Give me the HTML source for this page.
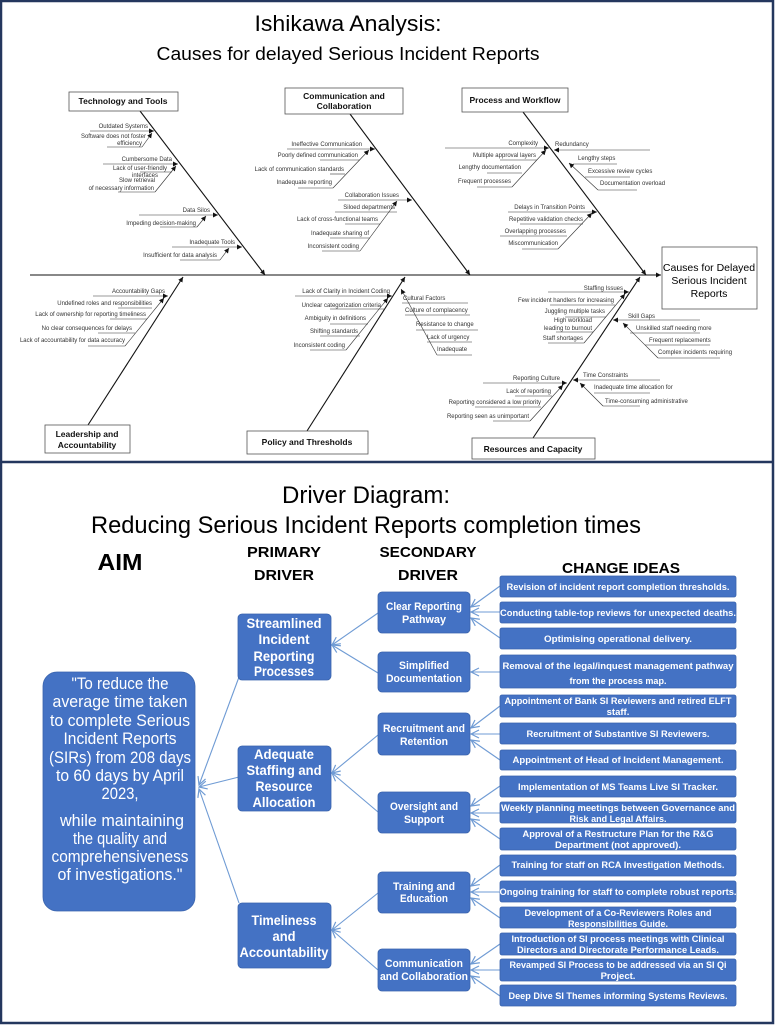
<!DOCTYPE html>
<html><head><meta charset="utf-8"><style>
html,body{margin:0;padding:0;background:#fff}
svg{display:block}
.t{font-family:"Liberation Sans",Arial,sans-serif;font-size:6px;fill:#333}
.bt{font-family:"Liberation Sans",Arial,sans-serif;font-size:8.5px;font-weight:bold;fill:#111;text-anchor:middle}
.c{font-family:"Liberation Sans",Arial,sans-serif;fill:#000;text-anchor:middle}
.w{font-family:"Liberation Sans",Arial,sans-serif;fill:#fff;text-anchor:middle;font-weight:bold}
.n{font-family:"Liberation Sans",Arial,sans-serif;fill:#fff;text-anchor:middle;font-weight:normal;font-size:17px}
.e{text-anchor:end}
</style></head><body>
<svg width="778" height="1026" viewBox="0 0 778 1026" xmlns="http://www.w3.org/2000/svg">
<defs>
<marker id="a" markerWidth="6" markerHeight="6" refX="5" refY="3" orient="auto" markerUnits="userSpaceOnUse"><path d="M0,0.5 L5,3 L0,5.5z" fill="#111"/></marker>
<marker id="o" markerWidth="10" markerHeight="10" refX="9" refY="5" orient="auto" markerUnits="userSpaceOnUse"><path d="M1,1 L9,5 L1,9" fill="none" stroke="#6f9bd4" stroke-width="1.2"/></marker>
</defs>
<rect x="1" y="1" width="772" height="1022" fill="#fff" stroke="#24375e" stroke-width="2.5"/>
<line x1="1" y1="462" x2="773" y2="462" stroke="#24375e" stroke-width="2.5"/>

<!-- ISHIKAWA -->
<text class="c" x="348" y="31" font-size="22" textLength="187" lengthAdjust="spacingAndGlyphs">Ishikawa Analysis:</text>
<text class="c" x="348" y="60" font-size="18" textLength="383" lengthAdjust="spacingAndGlyphs">Causes for delayed Serious Incident Reports</text>

<g stroke="#111" fill="none" stroke-width="1.1">
<line x1="30" y1="275" x2="661" y2="275" marker-end="url(#a)"/>
<line x1="140" y1="111" x2="265" y2="275" marker-end="url(#a)"/>
<line x1="350" y1="114" x2="470" y2="275" marker-end="url(#a)"/>
<line x1="523" y1="112" x2="646" y2="275" marker-end="url(#a)"/>
<line x1="88" y1="425" x2="183" y2="277" marker-end="url(#a)"/>
<line x1="307" y1="431" x2="405" y2="277" marker-end="url(#a)"/>
<line x1="533" y1="438" x2="640" y2="277" marker-end="url(#a)"/>
</g>
<g fill="#fff" stroke="#555" stroke-width="0.8">
<rect x="69" y="92" width="109" height="19"/>
<rect x="285" y="88" width="118" height="26"/>
<rect x="462" y="88" width="106" height="24"/>
<rect x="45" y="425" width="85" height="28"/>
<rect x="247" y="431" width="121" height="23"/>
<rect x="472" y="438" width="123" height="21"/>
<rect x="662" y="247" width="95" height="62"/>
</g>
<text class="bt" x="123" y="104">Technology and Tools</text>
<text class="bt" x="344" y="99">Communication and</text>
<text class="bt" x="344" y="109">Collaboration</text>
<text class="bt" x="515" y="103">Process and Workflow</text>
<text class="bt" x="87" y="437">Leadership and</text>
<text class="bt" x="87" y="448">Accountability</text>
<text class="bt" x="307" y="445">Policy and Thresholds</text>
<text class="bt" x="533" y="452">Resources and Capacity</text>
<text class="c" x="709" y="271" font-size="10.5" fill="#222">Causes for Delayed</text>
<text class="c" x="709" y="284" font-size="10.5" fill="#222">Serious Incident</text>
<text class="c" x="709" y="297" font-size="10.5" fill="#222">Reports</text>

<g stroke="#333" fill="none" stroke-width="0.6">
<line x1="90" y1="131" x2="154" y2="131" marker-end="url(#a)"/>
<line x1="107" y1="147" x2="142" y2="147"/><line x1="142" y1="147" x2="152" y2="133" marker-end="url(#a)"/>
<line x1="103" y1="164" x2="178" y2="164" marker-end="url(#a)"/>
<line x1="140" y1="172" x2="172" y2="172"/>
<line x1="118" y1="192" x2="155" y2="192"/><line x1="155" y1="192" x2="176" y2="166" marker-end="url(#a)"/>
<line x1="139" y1="215" x2="218" y2="215" marker-end="url(#a)"/>
<line x1="160" y1="227" x2="197" y2="227"/><line x1="197" y1="227" x2="206" y2="216" marker-end="url(#a)"/>
<line x1="172" y1="247" x2="242" y2="247" marker-end="url(#a)"/>
<line x1="180" y1="260" x2="220" y2="260"/><line x1="220" y1="260" x2="229" y2="248" marker-end="url(#a)"/>
<line x1="287" y1="149" x2="375" y2="149" marker-end="url(#a)"/>
<line x1="320" y1="160" x2="360" y2="160"/><line x1="330" y1="174" x2="345" y2="174"/>
<line x1="298" y1="188" x2="333" y2="188"/><line x1="333" y1="188" x2="369" y2="150" marker-end="url(#a)"/>
<line x1="338" y1="200" x2="412" y2="200" marker-end="url(#a)"/>
<line x1="335" y1="212" x2="397" y2="212"/><line x1="345" y1="224" x2="380" y2="224"/><line x1="330" y1="238" x2="370" y2="238"/>
<line x1="322" y1="251" x2="360" y2="251"/><line x1="360" y1="251" x2="397" y2="201" marker-end="url(#a)"/>
<line x1="445" y1="148" x2="549" y2="148" marker-end="url(#a)"/>
<line x1="500" y1="160" x2="537" y2="160"/><line x1="487" y1="173" x2="522" y2="173"/>
<line x1="477" y1="187" x2="512" y2="187"/><line x1="512" y1="187" x2="546" y2="150" marker-end="url(#a)"/>
<line x1="650" y1="150" x2="554" y2="150" marker-end="url(#a)"/>
<line x1="573" y1="164" x2="617" y2="164"/><line x1="585" y1="177" x2="630" y2="177"/><line x1="598" y1="190" x2="637" y2="190"/>
<line x1="598" y1="190" x2="569" y2="163" marker-end="url(#a)"/>
<line x1="508" y1="212" x2="597" y2="212" marker-end="url(#a)"/>
<line x1="520" y1="224" x2="583" y2="224"/><line x1="500" y1="236" x2="567" y2="236"/>
<line x1="522" y1="249" x2="558" y2="249"/><line x1="558" y1="249" x2="592" y2="213" marker-end="url(#a)"/>
<line x1="93" y1="296" x2="168" y2="296" marker-end="url(#a)"/>
<line x1="118" y1="308" x2="152" y2="308"/><line x1="110" y1="319" x2="147" y2="319"/><line x1="98" y1="333" x2="135" y2="333"/>
<line x1="88" y1="346" x2="125" y2="346"/><line x1="125" y1="346" x2="164" y2="298" marker-end="url(#a)"/>
<line x1="295" y1="296" x2="392" y2="296" marker-end="url(#a)"/>
<line x1="330" y1="309" x2="385" y2="309"/><line x1="330" y1="324" x2="368" y2="324"/><line x1="320" y1="336" x2="360" y2="336"/>
<line x1="310" y1="350" x2="346" y2="350"/><line x1="346" y1="350" x2="388" y2="298" marker-end="url(#a)"/>
<line x1="468" y1="303" x2="402" y2="303"/>
<line x1="405" y1="315" x2="470" y2="315"/><line x1="416" y1="330" x2="478" y2="330"/><line x1="427" y1="342" x2="472" y2="342"/><line x1="437" y1="355" x2="472" y2="355"/>
<line x1="437" y1="355" x2="401" y2="289" marker-end="url(#a)"/>
<line x1="548" y1="292" x2="629" y2="292" marker-end="url(#a)"/>
<line x1="550" y1="305" x2="615" y2="305"/><line x1="565" y1="317" x2="606" y2="317"/><line x1="556" y1="332" x2="593" y2="332"/>
<line x1="548" y1="343" x2="584" y2="343"/><line x1="584" y1="343" x2="625" y2="294" marker-end="url(#a)"/>
<line x1="700" y1="320" x2="613" y2="320" marker-end="url(#a)"/>
<line x1="630" y1="333" x2="700" y2="333"/><line x1="645" y1="345" x2="710" y2="345"/><line x1="658" y1="358" x2="720" y2="358"/>
<line x1="658" y1="358" x2="623" y2="323" marker-end="url(#a)"/>
<line x1="483" y1="383" x2="567" y2="383" marker-end="url(#a)"/>
<line x1="515" y1="396" x2="552" y2="396"/><line x1="475" y1="407" x2="541" y2="407"/>
<line x1="493" y1="421" x2="530" y2="421"/><line x1="530" y1="421" x2="563" y2="385" marker-end="url(#a)"/>
<line x1="660" y1="380" x2="573" y2="380" marker-end="url(#a)"/>
<line x1="594" y1="393" x2="650" y2="393"/><line x1="603" y1="406" x2="640" y2="406"/>
<line x1="603" y1="406" x2="580" y2="383" marker-end="url(#a)"/>
</g>

<g class="t">
<text class="t e" x="148" y="128">Outdated Systems</text>
<text class="t e" x="146" y="138">Software does not foster</text>
<text class="t e" x="142" y="145">efficiency</text>
<text class="t e" x="172" y="161">Cumbersome Data</text>
<text class="t e" x="167" y="170">Lack of user-friendly</text>
<text class="t e" x="158" y="177">interfaces</text>
<text class="t e" x="155" y="182">Slow retrieval</text>
<text class="t e" x="154" y="190">of necessary information</text>
<text class="t e" x="210" y="212">Data Silos</text>
<text class="t e" x="196" y="225">Impeding decision-making</text>
<text class="t e" x="235" y="244">Inadequate Tools</text>
<text class="t e" x="217" y="257">Insufficient for data analysis</text>
<text class="t e" x="362" y="146">Ineffective Communication</text>
<text class="t e" x="358" y="157">Poorly defined communication</text>
<text class="t e" x="344" y="171">Lack of communication standards</text>
<text class="t e" x="332" y="184">Inadequate reporting</text>
<text class="t e" x="399" y="197">Collaboration Issues</text>
<text class="t e" x="395" y="209">Siloed departments</text>
<text class="t e" x="378" y="221">Lack of cross-functional teams</text>
<text class="t e" x="369" y="235">Inadequate sharing of</text>
<text class="t e" x="359" y="248">Inconsistent coding</text>
<text class="t e" x="538" y="145">Complexity</text>
<text class="t e" x="536" y="157">Multiple approval layers</text>
<text class="t e" x="521" y="169">Lengthy documentation</text>
<text class="t e" x="511" y="183">Frequent processes</text>
<text class="t" x="555" y="146">Redundancy</text>
<text class="t" x="578" y="160">Lengthy steps</text>
<text class="t" x="588" y="173">Excessive review cycles</text>
<text class="t" x="600" y="185">Documentation overload</text>
<text class="t e" x="585" y="209">Delays in Transition Points</text>
<text class="t e" x="583" y="221">Repetitive validation checks</text>
<text class="t e" x="566" y="233">Overlapping processes</text>
<text class="t e" x="558" y="245">Miscommunication</text>
<text class="t e" x="165" y="293">Accountability Gaps</text>
<text class="t e" x="152" y="305">Undefined roles and responsibilities</text>
<text class="t e" x="146" y="316">Lack of ownership for reporting timeliness</text>
<text class="t e" x="132" y="330">No clear consequences for delays</text>
<text class="t e" x="125" y="342">Lack of accountability for data accuracy</text>
<text class="t e" x="390" y="293">Lack of Clarity in Incident Coding</text>
<text class="t e" x="381" y="307">Unclear categorization criteria</text>
<text class="t e" x="366" y="320">Ambiguity in definitions</text>
<text class="t e" x="358" y="333">Shifting standards</text>
<text class="t e" x="345" y="347">Inconsistent coding</text>
<text class="t" x="403" y="300">Cultural Factors</text>
<text class="t" x="405" y="312">Culture of complacency</text>
<text class="t" x="416" y="326">Resistance to change</text>
<text class="t" x="427" y="339">Lack of urgency</text>
<text class="t" x="437" y="351">Inadequate</text>
<text class="t e" x="623" y="290">Staffing Issues</text>
<text class="t e" x="614" y="302">Few incident handlers for increasing</text>
<text class="t e" x="605" y="313">Juggling multiple tasks</text>
<text class="t e" x="592" y="322">High workload</text>
<text class="t e" x="592" y="330">leading to burnout</text>
<text class="t e" x="583" y="340">Staff shortages</text>
<text class="t" x="628" y="318">Skill Gaps</text>
<text class="t" x="636" y="330">Unskilled staff needing more</text>
<text class="t" x="649" y="342">Frequent replacements</text>
<text class="t" x="658" y="354">Complex incidents requiring</text>
<text class="t e" x="560" y="380">Reporting Culture</text>
<text class="t e" x="551" y="393">Lack of reporting</text>
<text class="t e" x="541" y="404">Reporting considered a low priority</text>
<text class="t e" x="529" y="418">Reporting seen as unimportant</text>
<text class="t" x="583" y="377">Time Constraints</text>
<text class="t" x="594" y="389">Inadequate time allocation for</text>
<text class="t" x="605" y="403">Time-consuming administrative</text>
</g>

<!-- DRIVER DIAGRAM -->
<text class="c" x="366" y="503" font-size="24" textLength="168" lengthAdjust="spacingAndGlyphs">Driver Diagram:</text>
<text class="c" x="366" y="533" font-size="24" textLength="550" lengthAdjust="spacingAndGlyphs">Reducing Serious Incident Reports completion times</text>
<text class="c" x="120" y="570" font-size="23" font-weight="bold" textLength="45" lengthAdjust="spacingAndGlyphs">AIM</text>
<text class="c" x="284" y="557" font-size="15" font-weight="bold" textLength="74" lengthAdjust="spacingAndGlyphs">PRIMARY</text>
<text class="c" x="284" y="580" font-size="15" font-weight="bold" textLength="60" lengthAdjust="spacingAndGlyphs">DRIVER</text>
<text class="c" x="428" y="557" font-size="15" font-weight="bold" textLength="97" lengthAdjust="spacingAndGlyphs">SECONDARY</text>
<text class="c" x="428" y="580" font-size="15" font-weight="bold" textLength="60" lengthAdjust="spacingAndGlyphs">DRIVER</text>
<text class="c" x="621" y="573" font-size="15" font-weight="bold" textLength="118" lengthAdjust="spacingAndGlyphs">CHANGE IDEAS</text>

<g stroke="#6f9bd4" stroke-width="1.1" fill="none">
<line x1="239" y1="677" x2="199" y2="785" marker-end="url(#o)"/>
<line x1="239" y1="777" x2="199" y2="787" marker-end="url(#o)"/>
<line x1="239" y1="903" x2="199" y2="789" marker-end="url(#o)"/>
<line x1="378" y1="613" x2="332" y2="645" marker-end="url(#o)"/>
<line x1="378" y1="673" x2="332" y2="645" marker-end="url(#o)"/>
<line x1="378" y1="735" x2="332" y2="773" marker-end="url(#o)"/>
<line x1="378" y1="812" x2="332" y2="773" marker-end="url(#o)"/>
<line x1="378" y1="893" x2="332" y2="930" marker-end="url(#o)"/>
<line x1="378" y1="970" x2="332" y2="930" marker-end="url(#o)"/>
<line x1="500" y1="586" x2="471" y2="607" marker-end="url(#o)"/>
<line x1="500" y1="612" x2="471" y2="612" marker-end="url(#o)"/>
<line x1="500" y1="638" x2="471" y2="618" marker-end="url(#o)"/>
<line x1="500" y1="672" x2="471" y2="672" marker-end="url(#o)"/>
<line x1="500" y1="706" x2="471" y2="728" marker-end="url(#o)"/>
<line x1="500" y1="734" x2="471" y2="734" marker-end="url(#o)"/>
<line x1="500" y1="760" x2="471" y2="740" marker-end="url(#o)"/>
<line x1="500" y1="786" x2="471" y2="806" marker-end="url(#o)"/>
<line x1="500" y1="813" x2="471" y2="813" marker-end="url(#o)"/>
<line x1="500" y1="839" x2="471" y2="819" marker-end="url(#o)"/>
<line x1="500" y1="865" x2="471" y2="886" marker-end="url(#o)"/>
<line x1="500" y1="892" x2="471" y2="892" marker-end="url(#o)"/>
<line x1="500" y1="918" x2="471" y2="898" marker-end="url(#o)"/>
<line x1="500" y1="944" x2="471" y2="964" marker-end="url(#o)"/>
<line x1="500" y1="970" x2="471" y2="970" marker-end="url(#o)"/>
<line x1="500" y1="996" x2="471" y2="976" marker-end="url(#o)"/>
</g>

<g fill="#4472c4" stroke="#3a64ad" stroke-width="0.8">
<rect x="43" y="672" width="152" height="239" rx="14"/>
<rect x="238" y="614" width="93" height="66" rx="4"/>
<rect x="238" y="746" width="93" height="65" rx="4"/>
<rect x="238" y="903" width="93" height="65" rx="4"/>
<rect x="378" y="592" width="92" height="41" rx="4"/>
<rect x="378" y="652" width="92" height="40" rx="4"/>
<rect x="378" y="713" width="92" height="42" rx="4"/>
<rect x="378" y="792" width="92" height="41" rx="4"/>
<rect x="378" y="872" width="92" height="41" rx="4"/>
<rect x="378" y="949" width="92" height="42" rx="4"/>
<rect x="500" y="576" width="236" height="21" rx="2"/>
<rect x="500" y="602" width="236" height="21" rx="2"/>
<rect x="500" y="628" width="236" height="21" rx="2"/>
<rect x="500" y="655" width="236" height="33" rx="2"/>
<rect x="500" y="695" width="236" height="22" rx="2"/>
<rect x="500" y="723" width="236" height="21" rx="2"/>
<rect x="500" y="750" width="236" height="20" rx="2"/>
<rect x="500" y="776" width="236" height="21" rx="2"/>
<rect x="500" y="802" width="236" height="21" rx="2"/>
<rect x="500" y="828" width="236" height="22" rx="2"/>
<rect x="500" y="855" width="236" height="21" rx="2"/>
<rect x="500" y="881" width="236" height="21" rx="2"/>
<rect x="500" y="907" width="236" height="21" rx="2"/>
<rect x="500" y="933" width="236" height="22" rx="2"/>
<rect x="500" y="959" width="236" height="22" rx="2"/>
<rect x="500" y="985" width="236" height="21" rx="2"/>
</g>

<text class="n" x="120" y="689" textLength="97" lengthAdjust="spacingAndGlyphs">"To reduce the</text>
<text class="n" x="120" y="707" textLength="135" lengthAdjust="spacingAndGlyphs">average time taken</text>
<text class="n" x="120" y="726" textLength="140" lengthAdjust="spacingAndGlyphs">to complete Serious</text>
<text class="n" x="120" y="744" textLength="113" lengthAdjust="spacingAndGlyphs">Incident Reports</text>
<text class="n" x="120" y="763" textLength="142" lengthAdjust="spacingAndGlyphs">(SIRs) from 208 days</text>
<text class="n" x="120" y="781" textLength="128" lengthAdjust="spacingAndGlyphs">to 60 days by April</text>
<text class="n" x="120" y="799" textLength="37" lengthAdjust="spacingAndGlyphs">2023,</text>
<text class="n" x="122" y="826" textLength="124" lengthAdjust="spacingAndGlyphs">while maintaining</text>
<text class="n" x="120" y="844" textLength="94" lengthAdjust="spacingAndGlyphs">the quality and</text>
<text class="n" x="120" y="862" textLength="137" lengthAdjust="spacingAndGlyphs">comprehensiveness</text>
<text class="n" x="120" y="880" textLength="125" lengthAdjust="spacingAndGlyphs">of investigations."</text>

<g>
<text class="w" x="284" y="628" font-size="14" textLength="75" lengthAdjust="spacingAndGlyphs">Streamlined</text>
<text class="w" x="284" y="644" font-size="14" textLength="51" lengthAdjust="spacingAndGlyphs">Incident</text>
<text class="w" x="284" y="661" font-size="14" textLength="61" lengthAdjust="spacingAndGlyphs">Reporting</text>
<text class="w" x="284" y="676" font-size="14" textLength="60" lengthAdjust="spacingAndGlyphs">Processes</text>
<text class="w" x="284" y="759" font-size="14" textLength="60" lengthAdjust="spacingAndGlyphs">Adequate</text>
<text class="w" x="284" y="775" font-size="14" textLength="75" lengthAdjust="spacingAndGlyphs">Staffing and</text>
<text class="w" x="284" y="791" font-size="14" textLength="57" lengthAdjust="spacingAndGlyphs">Resource</text>
<text class="w" x="284" y="807" font-size="14" textLength="63" lengthAdjust="spacingAndGlyphs">Allocation</text>
<text class="w" x="284" y="925" font-size="14" textLength="65" lengthAdjust="spacingAndGlyphs">Timeliness</text>
<text class="w" x="284" y="941" font-size="14" textLength="23" lengthAdjust="spacingAndGlyphs">and</text>
<text class="w" x="284" y="957" font-size="14" textLength="89" lengthAdjust="spacingAndGlyphs">Accountability</text>
</g>

<g>
<text class="w" x="424" y="610" font-size="11" textLength="76" lengthAdjust="spacingAndGlyphs">Clear Reporting</text>
<text class="w" x="424" y="623" font-size="11" textLength="44" lengthAdjust="spacingAndGlyphs">Pathway</text>
<text class="w" x="424" y="669" font-size="11" textLength="50" lengthAdjust="spacingAndGlyphs">Simplified</text>
<text class="w" x="424" y="682" font-size="11" textLength="76" lengthAdjust="spacingAndGlyphs">Documentation</text>
<text class="w" x="424" y="732" font-size="11" textLength="82" lengthAdjust="spacingAndGlyphs">Recruitment and</text>
<text class="w" x="424" y="745" font-size="11" textLength="48" lengthAdjust="spacingAndGlyphs">Retention</text>
<text class="w" x="424" y="810" font-size="11" textLength="68" lengthAdjust="spacingAndGlyphs">Oversight and</text>
<text class="w" x="424" y="823" font-size="11" textLength="40" lengthAdjust="spacingAndGlyphs">Support</text>
<text class="w" x="424" y="890" font-size="11" textLength="62" lengthAdjust="spacingAndGlyphs">Training and</text>
<text class="w" x="424" y="902" font-size="11" textLength="48" lengthAdjust="spacingAndGlyphs">Education</text>
<text class="w" x="424" y="967" font-size="11" textLength="78" lengthAdjust="spacingAndGlyphs">Communication</text>
<text class="w" x="424" y="980" font-size="11" textLength="88" lengthAdjust="spacingAndGlyphs">and Collaboration</text>
</g>

<g>
<text class="w" x="618" y="590" font-size="9.5" textLength="223" lengthAdjust="spacingAndGlyphs">Revision of incident report completion thresholds.</text>
<text class="w" x="618" y="616" font-size="9.5" textLength="236" lengthAdjust="spacingAndGlyphs">Conducting table-top reviews for unexpected deaths.</text>
<text class="w" x="618" y="642" font-size="9.5" textLength="148" lengthAdjust="spacingAndGlyphs">Optimising operational delivery.</text>
<text class="w" x="618" y="669" font-size="9.5" textLength="231" lengthAdjust="spacingAndGlyphs">Removal of the legal/inquest management pathway</text>
<text class="w" x="618" y="684" font-size="9.5" textLength="97" lengthAdjust="spacingAndGlyphs">from the process map.</text>
<text class="w" x="618" y="704" font-size="9.5" textLength="227" lengthAdjust="spacingAndGlyphs">Appointment of Bank SI Reviewers and retired ELFT</text>
<text class="w" x="618" y="715" font-size="9.5">staff.</text>
<text class="w" x="618" y="737" font-size="9.5" textLength="183" lengthAdjust="spacingAndGlyphs">Recruitment of Substantive SI Reviewers.</text>
<text class="w" x="618" y="763" font-size="9.5" textLength="211" lengthAdjust="spacingAndGlyphs">Appointment of Head of Incident Management.</text>
<text class="w" x="618" y="790" font-size="9.5" textLength="200" lengthAdjust="spacingAndGlyphs">Implementation of MS Teams Live SI Tracker.</text>
<text class="w" x="618" y="811" font-size="9.5" textLength="234" lengthAdjust="spacingAndGlyphs">Weekly planning meetings between Governance and</text>
<text class="w" x="618" y="822" font-size="9.5" textLength="97" lengthAdjust="spacingAndGlyphs">Risk and Legal Affairs.</text>
<text class="w" x="618" y="837" font-size="9.5" textLength="191" lengthAdjust="spacingAndGlyphs">Approval of a Restructure Plan for the R&amp;G</text>
<text class="w" x="618" y="848" font-size="9.5" textLength="126" lengthAdjust="spacingAndGlyphs">Department (not approved).</text>
<text class="w" x="618" y="868" font-size="9.5" textLength="213" lengthAdjust="spacingAndGlyphs">Training for staff on RCA Investigation Methods.</text>
<text class="w" x="618" y="895" font-size="9.5" textLength="237" lengthAdjust="spacingAndGlyphs">Ongoing training for staff to complete robust reports.</text>
<text class="w" x="618" y="916" font-size="9.5" textLength="187" lengthAdjust="spacingAndGlyphs">Development of a Co-Reviewers Roles and</text>
<text class="w" x="618" y="927" font-size="9.5" textLength="100" lengthAdjust="spacingAndGlyphs">Responsibilities Guide.</text>
<text class="w" x="618" y="942" font-size="9.5" textLength="213" lengthAdjust="spacingAndGlyphs">Introduction of SI process meetings with Clinical</text>
<text class="w" x="618" y="953" font-size="9.5" textLength="202" lengthAdjust="spacingAndGlyphs">Directors and Directorate Performance Leads.</text>
<text class="w" x="618" y="968" font-size="9.5" textLength="217" lengthAdjust="spacingAndGlyphs">Revamped SI Process to be addressed via an SI Qi</text>
<text class="w" x="618" y="979" font-size="9.5">Project.</text>
<text class="w" x="618" y="999" font-size="9.5" textLength="219" lengthAdjust="spacingAndGlyphs">Deep Dive SI Themes informing Systems Reviews.</text>
</g>
</svg>
</body></html>
